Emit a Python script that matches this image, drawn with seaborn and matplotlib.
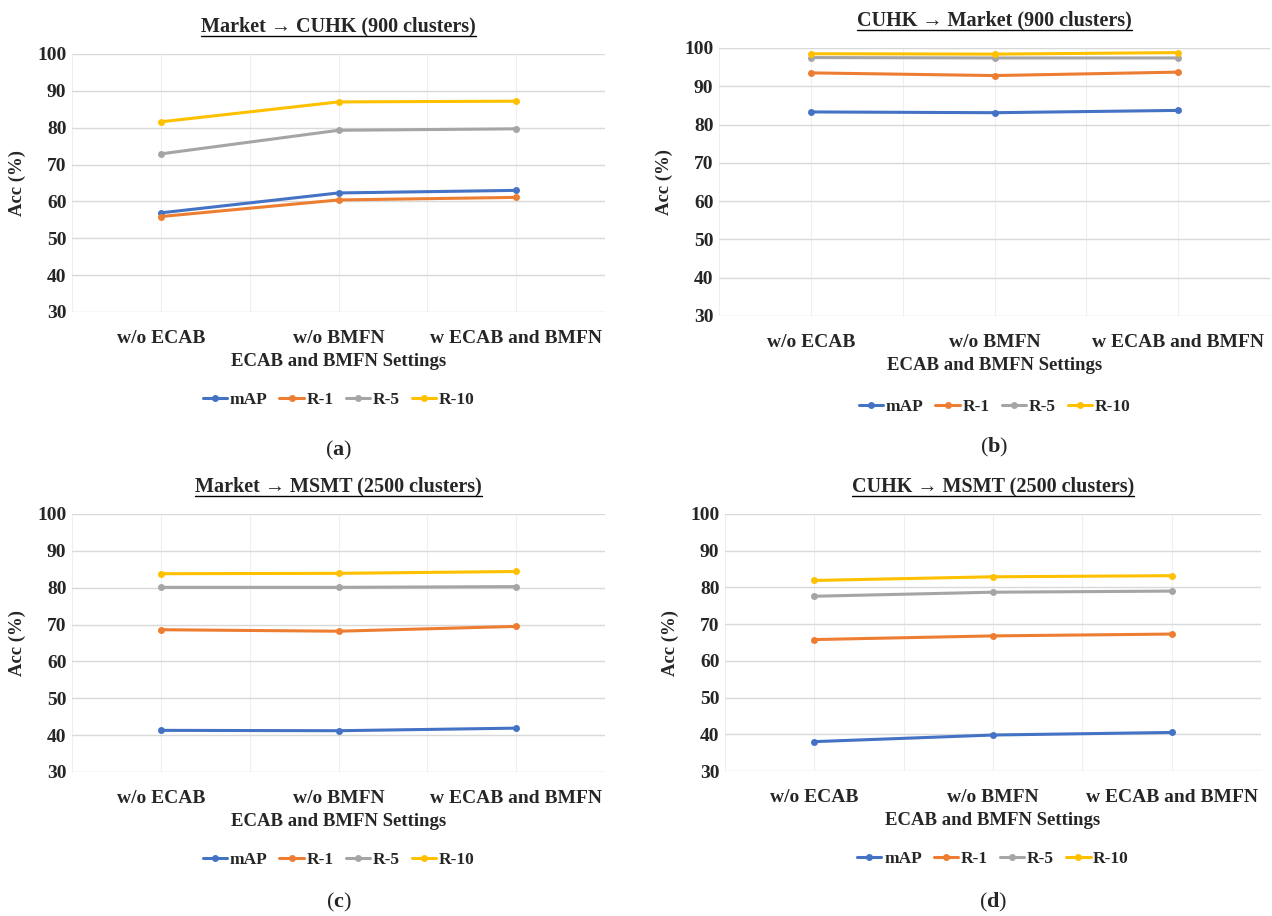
import numpy as np
import pandas as pd
import seaborn as sns
import matplotlib.pyplot as plt
from matplotlib.ticker import MultipleLocator

# Settings (x categories) and metric names
settings = ["w/o ECAB", "w/o BMFN", "w ECAB and BMFN"]
metrics = ["mAP", "R-1", "R-5", "R-10"]
colors = ["#4472C4", "#ED7D31", "#A5A5A5", "#FFC000"]

# (a) Market -> CUHK
a_map = [56.9, 62.3, 63.0]
a_r1 = [55.9, 60.4, 61.1]
a_r5 = [72.9, 79.3, 79.7]
a_r10 = [81.6, 87.0, 87.2]

# (b) CUHK -> Market
b_map = [83.3, 83.1, 83.7]
b_r1 = [93.5, 92.8, 93.7]
b_r5 = [97.5, 97.4, 97.4]
b_r10 = [98.5, 98.4, 98.8]

# (c) Market -> MSMT
c_map = [41.3, 41.2, 41.9]
c_r1 = [68.6, 68.2, 69.5]
c_r5 = [80.1, 80.1, 80.3]
c_r10 = [83.8, 83.9, 84.4]

# (d) CUHK -> MSMT
d_map = [38.0, 39.8, 40.5]
d_r1 = [65.8, 66.8, 67.3]
d_r5 = [77.6, 78.7, 79.0]
d_r10 = [81.9, 82.9, 83.2]

titles = ["Market \u2192 CUHK (900 clusters)", "CUHK \u2192 Market (900 clusters)",
          "Market \u2192 MSMT (2500 clusters)", "CUHK \u2192 MSMT (2500 clusters)"]
letters = ["a", "b", "c", "d"]
panels = [[a_map, a_r1, a_r5, a_r10], [b_map, b_r1, b_r5, b_r10],
          [c_map, c_r1, c_r5, c_r10], [d_map, d_r1, d_r5, d_r10]]

sns.set_theme(style="white")
plt.rcParams['font.family'] = ['Liberation Serif', 'DejaVu Serif']
plt.rcParams['font.weight'] = 'bold'
plt.rcParams['mathtext.fontset'] = 'custom'
plt.rcParams['mathtext.bf'] = 'Liberation Serif:bold'
plt.rcParams['mathtext.rm'] = 'Liberation Serif'

W, H = 1272, 916
fig = plt.figure(figsize=(12.72, 9.16), dpi=100)

# axes rectangles in pixels: left, top, right, bottom
boxes = [(72, 54, 605, 312), (719, 48, 1270, 316),
         (72, 514, 605, 772), (725, 514, 1261, 771)]
letter_y = [-0.535, -0.49, -0.505, -0.51]

for i, (l, t, r, b) in enumerate(boxes):
    ax = fig.add_axes([l / W, 1 - b / H, (r - l) / W, (b - t) / H])
    rows = []
    for name, vals in zip(metrics, panels[i]):
        for s, v in zip(settings, vals):
            rows.append({"setting": s, "metric": name, "acc": v})
    df = pd.DataFrame(rows)
    sns.lineplot(data=df, x="setting", y="acc", hue="metric", palette=colors,
                 hue_order=metrics, marker="o", markersize=5, markeredgewidth=0,
                 linewidth=2.2, sort=False, ax=ax)
    ax.set_xlim(-0.5, 2.5)
    ax.set_ylim(30, 100)
    ax.yaxis.set_major_locator(MultipleLocator(10))
    ax.set_xticks(range(len(settings)))
    ax.set_xticks([-0.5, 0.5, 1.5, 2.5], minor=True)
    ax.grid(axis="y", which="major", color="#D9D9D9", linewidth=1.0)
    ax.grid(axis="x", which="both", color="#EFEFEF", linewidth=0.8)
    ax.set_axisbelow(True)
    for sp in ax.spines.values():
        sp.set_visible(False)
    ax.tick_params(axis="both", which="both", length=0, labelsize=14)
    ax.tick_params(axis="x", pad=13)
    ax.tick_params(axis="y", pad=4)
    ax.set_xticklabels(settings, fontweight="bold")
    for lab in ax.get_yticklabels():
        lab.set_fontweight("bold")
    ax.set_xlabel("ECAB and BMFN Settings", fontsize=13.5, fontweight="bold", labelpad=4)
    ax.set_ylabel("Acc (%)", fontsize=13.5, fontweight="bold", labelpad=8)
    ax.set_title(titles[i], fontsize=14.5, fontweight="bold", pad=16)
    ax.legend(loc="upper center", bbox_to_anchor=(0.5, -0.25), ncol=4,
              frameon=False, handlelength=1.4, handletextpad=0.15,
              columnspacing=0.7, prop={"weight": "bold", "size": 12.5})
    ax.text(0.5, letter_y[i], r"($\mathbf{" + letters[i] + r"}$)", transform=ax.transAxes,
            ha="center", va="center", fontsize=16, fontweight="normal")

# underline the panel titles
fig.canvas.draw()
for ax in fig.axes:
    bb = ax.title.get_window_extent()
    y = bb.y0 + 1
    fig.add_artist(plt.Line2D([bb.x0 / fig.bbox.width, bb.x1 / fig.bbox.width],
                              [y / fig.bbox.height, y / fig.bbox.height],
                              color="black", linewidth=1.0, transform=fig.transFigure))

fig.savefig("out.png", dpi=100)
